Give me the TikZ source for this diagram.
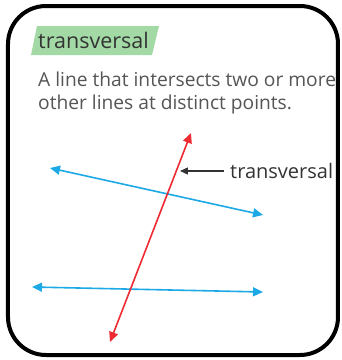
\documentclass[tikz,border=0pt]{standalone}
\usepackage{fontspec}
\setmainfont{Open Sans}
\usetikzlibrary{arrows.meta}
\definecolor{tagg}{HTML}{A3D9A5}
\definecolor{ln}{HTML}{1CA9E6}
\definecolor{rd}{HTML}{EE2B32}
\definecolor{txt}{HTML}{333333}
\definecolor{deft}{HTML}{555555}
\begin{document}
\begin{tikzpicture}[x=1pt,y=-1pt,
  bluel/.style={ln, line width=1.6pt, {Triangle[length=10pt,width=9pt]}-{Triangle[length=10pt,width=9pt]}},
  redl/.style={rd, line width=1.6pt, {Triangle[length=10pt,width=9pt]}-{Triangle[length=10pt,width=9pt]}},
  deftext/.style={anchor=base west, inner sep=0pt, text=deft, font=\fontsize{19.2}{23}\selectfont}]
\useasboundingbox (0,0) rectangle (342,360);
\fill[white] (0,0) rectangle (342,360);
% tag
\fill[tagg] (31,55) -- (37,26) -- (159,26) -- (152,55) -- cycle;
\node[anchor=base west, inner sep=0pt, text=txt, font=\fontsize{21.5}{24}\selectfont] (title) at (38,48) {transversal};
\node[deftext] (def1) at (38,86) {A line that intersects two or more};
\node[deftext] (def2) at (38,109) {other lines at distinct points.};
% lines
\coordinate (b1a) at (50,168);
\coordinate (b1b) at (263,215);
\coordinate (b2a) at (32,287);
\coordinate (b2b) at (263,292);
\coordinate (ra) at (110,342);
\coordinate (rb) at (191,133);
\draw[bluel] (b1a) -- (b1b);
\draw[bluel] (b2a) -- (b2b);
\draw[redl] (ra) -- (rb);
% label
\node[anchor=west, inner sep=0pt, text=txt, font=\fontsize{20}{22}\selectfont] (lab) at (230,171) {transversal};
\coordinate (pt) at (180,171);
\draw[txt, line width=1.3pt, -{Triangle[length=8pt,width=7pt]}] ([xshift=-6pt]lab.west) -- (pt);
% frame
\draw[line width=4pt, rounded corners=38pt] (8,6) rectangle (338,355);
\end{tikzpicture}
\end{document}
